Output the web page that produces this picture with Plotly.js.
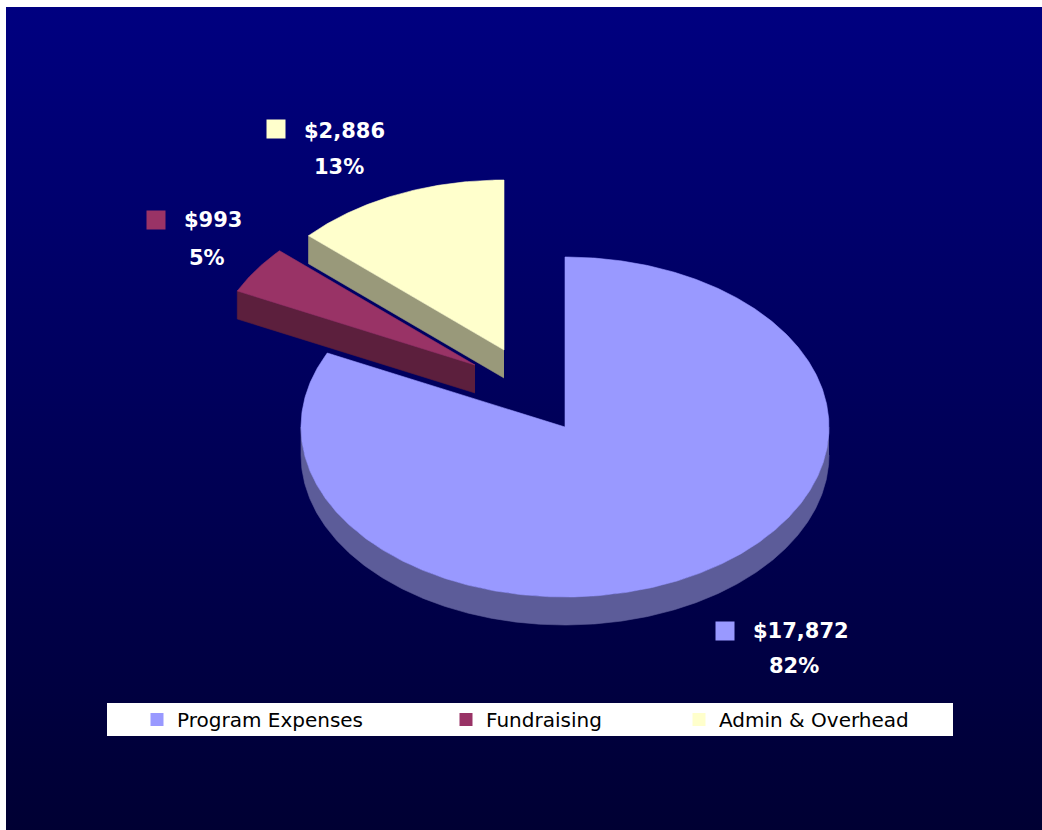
<!DOCTYPE html>
<html><head><meta charset="utf-8">
<script src="https://cdn.plot.ly/plotly-3.0.1.min.js"></script>
<style>
html,body{margin:0;padding:0;background:#fff;width:1042px;height:830px;overflow:hidden;}
#bg{position:absolute;left:6px;top:7px;width:1036px;height:823px;background:linear-gradient(to bottom,#000080 0%,#000033 100%);}
#chart{position:absolute;left:0;top:0;width:1042px;height:830px;}
</style></head><body>
<div id="bg"></div><div id="chart"></div>
<script>
// ---- data ----
const categories = ['Program Expenses', 'Fundraising', 'Admin & Overhead'];
const values = [17872, 993, 2886];

// ---- styles ----
const colors = ['#9999FF', '#993366', '#FFFFCC'];
const sideColors = ['#5C5C99', '#5C1F3D', '#99997A'];
const center = {x: 565, y: 427};
const RX = 264, RY = 170, DEPTH = 28;
const explode = [[0, 0], [-90, -62], [-61, -77]];
const labelPos = [
  {key: [725, 630.5], val: [751, 630.5], pct: [794, 666]},
  {key: [155.5, 220], val: [182, 220], pct: [207, 258]},
  {key: [276, 129], val: [302, 130.5], pct: [338.5, 166.5]}
];
const legendTextX = [177, 486, 719];
const legendY = 719.5;

const total = values.reduce((a, b) => a + b, 0);
const deg = Math.PI / 180;

function pt(c, th, dy) { return [c.x + RX * Math.sin(th), c.y - RY * Math.cos(th) + (dy || 0)]; }
function arc(c, a, b, dy) {
  const pts = []; const n = Math.max(2, Math.ceil(Math.abs(b - a) / (0.5 * deg)));
  for (let k = 0; k <= n; k++) pts.push(pt(c, a + (b - a) * k / n, dy));
  return pts;
}
function poly(pts, color) {
  return {type: 'scatter', mode: 'lines', x: pts.map(p => p[0]), y: pts.map(p => p[1]),
    fill: 'toself', fillcolor: color, line: {color: color, width: 0.6},
    hoverinfo: 'skip', showlegend: false};
}

// build slices
let acc = 0;
const slices = values.map((v, i) => {
  const a = acc / total * 2 * Math.PI; acc += v;
  const b = acc / total * 2 * Math.PI;
  const c = {x: center.x + explode[i][0], y: center.y + explode[i][1]};
  return {i, a, b, c};
});
// back to front
const order = slices.slice().sort((s, t) => s.c.y - t.c.y);
const traces = [];
order.forEach(s => {
  const {i, a, b, c} = s;
  // outer visible side (front half: 90..270 deg)
  const lo = Math.max(a, 90 * deg), hi = Math.min(b, 270 * deg);
  if (hi > lo) {
    const top = arc(c, lo, hi, 0), bot = arc(c, hi, lo, DEPTH);
    traces.push(poly(top.concat(bot), sideColors[i]));
  }
  // radial faces
  if (Math.sin(a) < -1e-6) {
    const p = pt(c, a, 0);
    traces.push(poly([[c.x, c.y], p, [p[0], p[1] + DEPTH], [c.x, c.y + DEPTH]], sideColors[i]));
  }
  if (Math.sin(b) > 1e-6) {
    const p = pt(c, b, 0);
    traces.push(poly([[c.x, c.y], p, [p[0], p[1] + DEPTH], [c.x, c.y + DEPTH]], sideColors[i]));
  }
  // top face
  traces.push(poly([[c.x, c.y]].concat(arc(c, a, b, 0)).concat([[c.x, c.y]]), colors[i]));
});

// legend traces
const legendNames = ['legend', 'legend2', 'legend3'];
categories.forEach((name, i) => {
  traces.push({type: 'scatter', mode: 'markers', x: [null], y: [null], name: name,
    marker: {symbol: 'square', size: 13, color: colors[i]}, legend: legendNames[i],
    showlegend: true, hoverinfo: 'skip'});
});

const labelFont = {family: 'DejaVu Sans', size: 21, color: '#FFFFFF', weight: 'bold'};
const annotations = [];
values.forEach((v, i) => {
  const lp = labelPos[i];
  annotations.push({xref: 'x', yref: 'y', x: lp.key[0], y: lp.key[1], text: '\u00a0', showarrow: false,
    width: 18, height: 18, bgcolor: colors[i], borderpad: 0, xanchor: 'center', yanchor: 'middle', font: {size: 4}});
  annotations.push({xref: 'x', yref: 'y', x: lp.val[0], y: lp.val[1], text: '$' + v.toLocaleString('en-US'),
    showarrow: false, xanchor: 'left', yanchor: 'middle', font: labelFont});
  annotations.push({xref: 'x', yref: 'y', x: lp.pct[0], y: lp.pct[1], text: Math.round(v / total * 100) + '%',
    showarrow: false, xanchor: 'center', yanchor: 'middle', font: labelFont});
});

const layout = {
  width: 1042, height: 830, margin: {l: 0, r: 0, t: 0, b: 0},
  paper_bgcolor: 'rgba(0,0,0,0)', plot_bgcolor: 'rgba(0,0,0,0)',
  xaxis: {range: [0, 1042], visible: false, fixedrange: true},
  yaxis: {range: [830, 0], visible: false, fixedrange: true},
  shapes: [{type: 'rect', xref: 'x', yref: 'y', x0: 107, x1: 953, y0: 703, y1: 736,
    fillcolor: '#FFFFFF', line: {width: 0}, layer: 'below'}],
  annotations: annotations
};
legendNames.forEach((ln, i) => {
  layout[ln] = {x: (legendTextX[i] - 40) / 1042, xanchor: 'left', y: 1 - legendY / 830, yanchor: 'middle',
    bgcolor: 'rgba(0,0,0,0)', borderwidth: 0, orientation: 'h',
    font: {family: 'DejaVu Sans', size: 20, color: '#000000'}};
});

Plotly.newPlot('chart', traces, layout, {staticPlot: true, displayModeBar: false});
</script>
</body></html>
